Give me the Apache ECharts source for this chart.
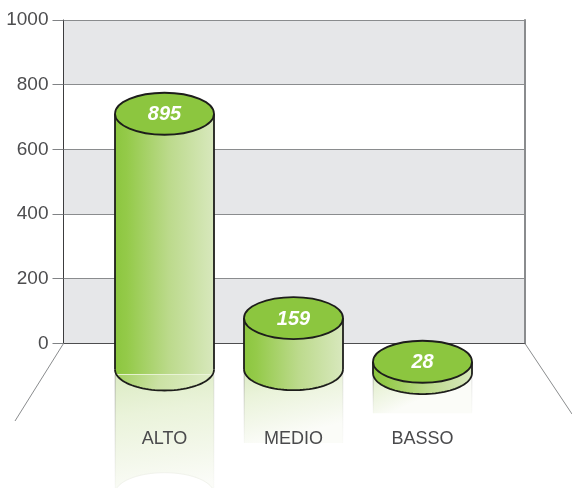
<!DOCTYPE html>
<html>
<head>
<meta charset="utf-8">
<style>html,body{margin:0;padding:0;background:#fff}#c{width:572px;height:488px}</style>
<script src="https://cdn.jsdelivr.net/npm/echarts@6/dist/echarts.min.js"></script>
</head>
<body>
<div id="c"></div>
<script>
// Data
var categories = ['ALTO', 'MEDIO', 'BASSO'];
var shownValues = [895, 159, 28];          // numbers printed on the cylinder tops
var topLevels = [710, 78, -57];            // axis level of each top ellipse centre
var baseLevels = [-81, -80, -92];          // axis level of each base ellipse centre
var reflectionEnds = [-465, -308, -216];   // axis level where each mirror fades out
var yTicks = ['0', '200', '400', '600', '800', '1000'];

var RX = 49.5, RY = 21;
function lin(x, y, x2, y2, stops) {
  return {type: 'linear', x: x, y: y, x2: x2, y2: y2, colorStops: stops.map(function (s) { return {offset: s[0], color: s[1]}; })};
}
var sideFill = lin(0, 0, 1, 0, [[0, '#8cc63f'], [0.12, '#94ca49'], [0.55, '#bcda8c'], [1, '#d8e8bd']]);
var paleFill = lin(0, 0, 1, 0.6, [[0, '#9ccd55'], [0.5, '#cbe2a4'], [1, '#e0edc9']]);
var mirrorFill = lin(0, 0, 0.18, 1, [[0, '#dcebc4'], [0.35, '#eaf3da'], [0.75, '#f4f8ec'], [1, '#fbfcf8']]);
var STROKE = '#1d1d1b';

function lowerArc(cx, cy) {
  var pts = [];
  for (var k = 0; k <= 48; k++) {
    var a = Math.PI * k / 48;
    pts.push([cx + RX * Math.cos(a), cy + RY * Math.sin(a)]);
  }
  return pts;
}

function renderCylinder(params, api) {
  var i = api.value(0);
  var top = api.coord([i, api.value(2)]);
  var base = api.coord([i, api.value(3)]);
  var end = api.coord([i, api.value(4)]);
  var cx = top[0], tY = top[1], bY = base[1], eY = end[1];
  var L = cx - RX, R = cx + RX;
  var long = i === 0;                       // only the tall one shows a seam and a curved mirror end
  var seam = long ? bY + 5 : bY;
  var kids = [];
  // mirror
  var mTop = bY + (long ? 5 : 2);
  kids.push({type: 'rect', shape: {x: L, y: mTop, width: RX * 2, height: eY - mTop}, style: {fill: mirrorFill}});
  kids.push({type: 'rect', shape: {x: L - 0.5, y: mTop, width: 1.4, height: eY - mTop},
    style: {fill: lin(0, 0, 0, 1, [[0, 'rgba(140,140,140,0.45)'], [1, 'rgba(200,200,200,0.05)']])}});
  kids.push({type: 'rect', shape: {x: R - 0.9, y: mTop, width: 1.4, height: eY - mTop},
    style: {fill: lin(0, 0, 0, 1, [[0, 'rgba(200,200,200,0.4)'], [1, 'rgba(220,220,220,0.05)']])}});
  if (long) {
    kids.push({type: 'ellipse', shape: {cx: cx, cy: eY, rx: RX, ry: RY},
      style: {fill: '#fff', stroke: '#f1f3ec', lineWidth: 1}});
  }
  // body
  kids.push({type: 'ellipse', shape: {cx: cx, cy: bY, rx: RX, ry: RY},
    style: {fill: long ? paleFill : sideFill}});
  kids.push({type: 'rect', shape: {x: L, y: tY, width: RX * 2, height: seam - tY}, style: {fill: sideFill}});
  if (long) {
    kids.push({type: 'line', shape: {x1: L + 1, y1: seam, x2: R - 1, y2: seam},
      style: {stroke: 'rgba(236,245,220,0.9)', lineWidth: 1}});
  }
  kids.push({type: 'polyline', shape: {points: lowerArc(cx, bY)}, style: {fill: 'none', stroke: STROKE, lineWidth: 1.8}});
  kids.push({type: 'line', shape: {x1: L, y1: tY, x2: L, y2: bY}, style: {stroke: STROKE, lineWidth: 1.8}});
  kids.push({type: 'line', shape: {x1: R, y1: tY, x2: R, y2: bY}, style: {stroke: STROKE, lineWidth: 1.8}});
  kids.push({type: 'ellipse', shape: {cx: cx, cy: tY, rx: RX, ry: RY},
    style: {fill: '#8cc63f', stroke: STROKE, lineWidth: 1.8}});
  kids.push({type: 'text', style: {
    x: cx, y: tY + 1, text: String(api.value(1)), align: 'center', verticalAlign: 'middle',
    fill: '#fff', font: 'italic bold 20px "Liberation Sans", Arial, sans-serif'}});
  return {type: 'group', children: kids};
}

var chart = echarts.init(document.getElementById('c'), null, {renderer: 'canvas'});
var AXIS_TOP = 20, AXIS_H = 323.3;
chart.setOption({
  animation: false,
  backgroundColor: '#ffffff',
  grid: [
    {left: 63.5, width: 461.5, top: AXIS_TOP, height: AXIS_H, show: false},
    {left: 100, width: 387, top: AXIS_TOP, height: AXIS_H, show: false}
  ],
  xAxis: [
    {gridIndex: 0, type: 'category', data: categories, show: true,
     axisLine: {onZero: false, lineStyle: {color: '#4d4d4f', width: 1}}, axisTick: {show: false}, axisLabel: {show: false},
     splitLine: {show: false}},
    {gridIndex: 1, type: 'category', data: categories, z: 20,
     axisLine: {show: false}, axisTick: {show: false},
     axisLabel: {margin: 87, color: '#4a4a4c', fontSize: 18, fontFamily: '"Liberation Sans", Arial, sans-serif'}}
  ],
  yAxis: [
    {gridIndex: 0, type: 'value', min: 0, max: 1000, interval: 200,
     axisLine: {show: true, lineStyle: {color: '#3c3c3e', width: 1}},
     axisTick: {show: true, length: 11, lineStyle: {color: '#808285', width: 1}},
     axisLabel: {margin: 15, padding: [4, 0, 0, 0], color: '#4d4d4f', fontSize: 19, fontFamily: '"Liberation Sans", Arial, sans-serif',
       formatter: function (v) { return yTicks[v / 200]; }},
     splitLine: {show: true, lineStyle: {color: '#8a8c8e', width: 1}},
     splitArea: {show: true, areaStyle: {color: ['#e6e7e9', '#ffffff']}}},
    {gridIndex: 0, type: 'value', position: 'right', min: 0, max: 1000, interval: 1000,
     axisLine: {show: true, lineStyle: {color: '#8a8c8e', width: 2}},
     axisTick: {show: false}, axisLabel: {show: false}, splitLine: {show: false}},
    {gridIndex: 1, type: 'value', min: 0, max: 1000, show: false, splitLine: {show: false}}
  ],
  series: [{
    type: 'custom',
    xAxisIndex: 1, yAxisIndex: 2,
    clip: false,
    z: 5,
    renderItem: renderCylinder,
    encode: {x: 0, y: 2},
    data: categories.map(function (c, i) {
      return [i, shownValues[i], topLevels[i], baseLevels[i], reflectionEnds[i]];
    })
  }],
  graphic: [
    {type: 'line', z: 1, shape: {x1: 63.5, y1: 343.5, x2: 15, y2: 421}, style: {stroke: '#8a8c8e', lineWidth: 1}},
    {type: 'line', z: 1, shape: {x1: 525, y1: 343.5, x2: 572, y2: 414}, style: {stroke: '#8a8c8e', lineWidth: 1}}
  ]
});
</script>
</body>
</html>
